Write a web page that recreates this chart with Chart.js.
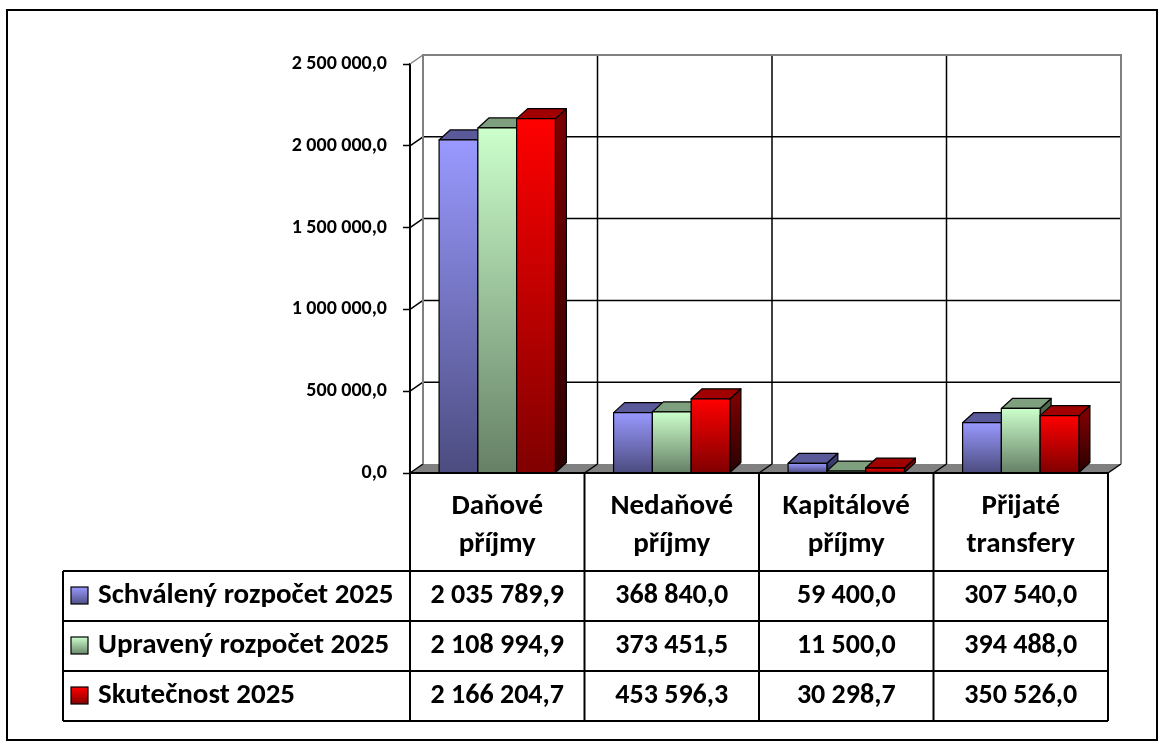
<!DOCTYPE html>
<html>
<head>
<meta charset="utf-8">
<script src="https://cdn.jsdelivr.net/npm/chart.js@4.4.1/dist/chart.umd.min.js"></script>
<style>
  html, body { margin: 0; padding: 0; background: #ffffff; }
  #wrap { width: 1168px; height: 749px; position: relative; }
</style>
</head>
<body>
<div id="wrap"><canvas id="c" width="1168" height="749"></canvas></div>
<script>
// ---- data ----
const categories = [["Daňové", "příjmy"], ["Nedaňové", "příjmy"], ["Kapitálové", "příjmy"], ["Přijaté", "transfery"]];
const seriesNames = ["Schválený rozpočet 2025", "Upravený rozpočet 2025", "Skutečnost 2025"];
const schvaleny = [2035789.9, 368840.0, 59400.0, 307540.0];
const upraveny = [2108994.9, 373451.5, 11500.0, 394488.0];
const skutecnost = [2166204.7, 453596.3, 30298.7, 350526.0];
const yMin = 0, yMax = 2500000, yStep = 500000;

// ---- styles ----
const FONT = 'Calibri, Carlito, Lato, "Open Sans", sans-serif';
const frontTop = ['#9999FF', '#CCFFCC', '#FF0000'];
const frontBot = ['#4C4C80', '#668066', '#800000'];
const topFace = ['#5A5A9A', '#7FA07F', '#A00000'];
const sideTop = ['#3C3C70', '#4A6A4A', '#7A0000'];
const sideBot = ['#1E1E3A', '#2A3A2A', '#2A0000'];
const DEPTH_X = 12, DEPTH_Y = -9;   // 3D depth of walls / bars

function fmt(v) {
  const s = v.toFixed(1).split('.');
  return s[0].replace(/\B(?=(\d{3})+(?!\d))/g, ' ') + ',' + s[1];
}

const seriesData = [schvaleny, upraveny, skutecnost];

const wallsPlugin = {
  id: 'walls',
  beforeDatasetsDraw(chart) {
    const ctx = chart.ctx, a = chart.chartArea, y = chart.scales.y;
    const dx = DEPTH_X + 1, dy = DEPTH_Y;
    ctx.save();
    const y0 = y.getPixelForValue(0);
    ctx.fillStyle = '#808080';
    ctx.beginPath();
    ctx.moveTo(a.left, y0); ctx.lineTo(a.right, y0);
    ctx.lineTo(a.right + dx, y0 + dy); ctx.lineTo(a.left + dx, y0 + dy);
    ctx.closePath(); ctx.fill();
    ctx.strokeStyle = '#000'; ctx.lineWidth = 1.5;
    y.ticks.forEach(t => {
      const py = y.getPixelForValue(t.value);
      if (t.value !== yMax && t.value !== 0) {
        ctx.beginPath(); ctx.moveTo(a.left + dx, py + dy); ctx.lineTo(a.right + dx, py + dy); ctx.stroke();
      }
      ctx.strokeStyle = t.value === yMax ? '#808080' : '#000';
      ctx.beginPath(); ctx.moveTo(a.left, py); ctx.lineTo(a.left + dx, py + dy); ctx.stroke();
      ctx.strokeStyle = '#000';
    });
    const n = categories.length;
    const cw = (a.right - a.left) / n;
    for (let i = 1; i < n; i++) {
      const bx = a.left + cw * i;
      ctx.beginPath(); ctx.moveTo(bx + dx, y0 + dy); ctx.lineTo(bx + dx, y.getPixelForValue(yMax) + dy); ctx.stroke();
      ctx.beginPath(); ctx.moveTo(bx, y0); ctx.lineTo(bx + dx, y0 + dy); ctx.stroke();
    }
    ctx.beginPath(); ctx.moveTo(a.right, y0); ctx.lineTo(a.right + dx, y0 + dy); ctx.stroke();
    const yt = y.getPixelForValue(yMax) + dy;
    ctx.strokeStyle = '#808080'; ctx.lineWidth = 2;
    ctx.beginPath();
    ctx.moveTo(a.left + dx, y0 + dy); ctx.lineTo(a.left + dx, yt);
    ctx.lineTo(a.right + dx, yt); ctx.lineTo(a.right + dx, y0 + dy);
    ctx.stroke();
    ctx.strokeStyle = '#000'; ctx.lineWidth = 2;
    ctx.beginPath(); ctx.moveTo(a.left, y0); ctx.lineTo(a.right, y0); ctx.stroke();
    ctx.restore();
  },
  afterDatasetsDraw(chart) {
    const ctx = chart.ctx;
    const dx = DEPTH_X - 1, dy = DEPTH_Y - 1;
    ctx.save();
    ctx.lineWidth = 1.2; ctx.strokeStyle = '#000'; ctx.lineJoin = 'round';
    const n = categories.length;
    for (let i = 0; i < n; i++) {
      for (let d = 0; d < chart.data.datasets.length; d++) {
        const el = chart.getDatasetMeta(d).data[i];
        const L = el.x - el.width / 2, R = el.x + el.width / 2, T = el.y, B = el.base;
        let g = ctx.createLinearGradient(0, T, 0, B);
        g.addColorStop(0, sideTop[d]); g.addColorStop(1, sideBot[d]);
        ctx.fillStyle = g;
        ctx.beginPath();
        ctx.moveTo(R, T); ctx.lineTo(R + dx, T + dy); ctx.lineTo(R + dx, B + dy); ctx.lineTo(R, B);
        ctx.closePath(); ctx.fill(); ctx.stroke();
        ctx.fillStyle = topFace[d];
        ctx.beginPath();
        ctx.moveTo(L, T); ctx.lineTo(R, T); ctx.lineTo(R + dx, T + dy); ctx.lineTo(L + dx, T + dy);
        ctx.closePath(); ctx.fill(); ctx.stroke();
        g = ctx.createLinearGradient(0, T, 0, B);
        g.addColorStop(0, frontTop[d]); g.addColorStop(1, frontBot[d]);
        ctx.fillStyle = g;
        ctx.fillRect(L, T, R - L, B - T);
        ctx.strokeRect(L, T, R - L, B - T);
      }
    }
    ctx.restore();
  },
  afterDraw(chart) {
    const ctx = chart.ctx, a = chart.chartArea, y = chart.scales.y;
    const y0 = y.getPixelForValue(0);
    const n = categories.length;
    const cw = (a.right - a.left) / n;
    const tableLeft = 63, headBottom = 571, rowH = 50;
    const tableBottom = headBottom + rowH * seriesNames.length;
    ctx.save();
    ctx.strokeStyle = '#000'; ctx.lineWidth = 2;
    for (let r = 0; r <= seriesNames.length; r++) {
      const ly = headBottom + r * rowH;
      ctx.beginPath(); ctx.moveTo(tableLeft, ly); ctx.lineTo(a.right, ly); ctx.stroke();
    }
    ctx.beginPath(); ctx.moveTo(tableLeft, headBottom); ctx.lineTo(tableLeft, tableBottom); ctx.stroke();
    for (let i = 0; i <= n; i++) {
      const lx = a.left + cw * i;
      ctx.beginPath(); ctx.moveTo(lx, y0); ctx.lineTo(lx, tableBottom); ctx.stroke();
    }
    ctx.fillStyle = '#000';
    ctx.font = 'bold 29px ' + FONT;
    ctx.textAlign = 'center'; ctx.textBaseline = 'middle';
    for (let i = 0; i < n; i++) {
      const cx = a.left + cw * (i + 0.5);
      ctx.fillText(categories[i][0], cx, 507);
      ctx.fillText(categories[i][1], cx, 545);
    }
    for (let r = 0; r < seriesNames.length; r++) {
      const cy = headBottom + rowH * (r + 0.5);
      ctx.font = 'bold 28px ' + FONT;
      for (let i = 0; i < n; i++) {
        ctx.textAlign = 'center';
        ctx.fillText(fmt(seriesData[r][i]), a.left + cw * (i + 0.5), cy);
      }
      const g = ctx.createLinearGradient(0, cy - 9, 0, cy + 9);
      g.addColorStop(0, frontTop[r]); g.addColorStop(1, frontBot[r]);
      ctx.fillStyle = g;
      ctx.fillRect(71, cy - 9, 17, 17);
      ctx.lineWidth = 1.2; ctx.strokeRect(71, cy - 9, 17, 17);
      ctx.fillStyle = '#000';
      ctx.textAlign = 'left';
      ctx.font = 'bold 29px ' + FONT;
      ctx.fillText(seriesNames[r], 98, cy);
    }
    ctx.lineWidth = 2;
    ctx.strokeRect(7, 10, 1150, 730);
    ctx.restore();
  }
};

new Chart(document.getElementById('c'), {
  type: 'bar',
  data: {
    labels: categories,
    datasets: seriesNames.map((name, d) => ({
      label: name,
      data: seriesData[d],
      backgroundColor: 'rgba(0,0,0,0)',
      borderWidth: 0
    }))
  },
  options: {
    responsive: false,
    animation: false,
    devicePixelRatio: 1,
    layout: { padding: { left: 0, right: 60, top: 64, bottom: 749 - 473 } },
    datasets: { bar: { categoryPercentage: 3 / 4.5, barPercentage: 1.0 } },
    plugins: { legend: { display: false }, tooltip: { enabled: false } },
    scales: {
      x: { display: false },
      y: {
        min: yMin, max: yMax,
        ticks: { stepSize: yStep, callback: v => fmt(v), color: '#000', padding: 16,
                 font: { family: FONT, weight: 'bold', size: 20 } },
        grid: { drawOnChartArea: false, drawTicks: true, tickLength: 7, tickColor: '#000', tickWidth: 1.5 },
        border: { display: true, color: '#000', width: 2 },
        afterFit: s => { s.width = 410; }
      }
    }
  },
  plugins: [wallsPlugin]
});
</script>
</body>
</html>
